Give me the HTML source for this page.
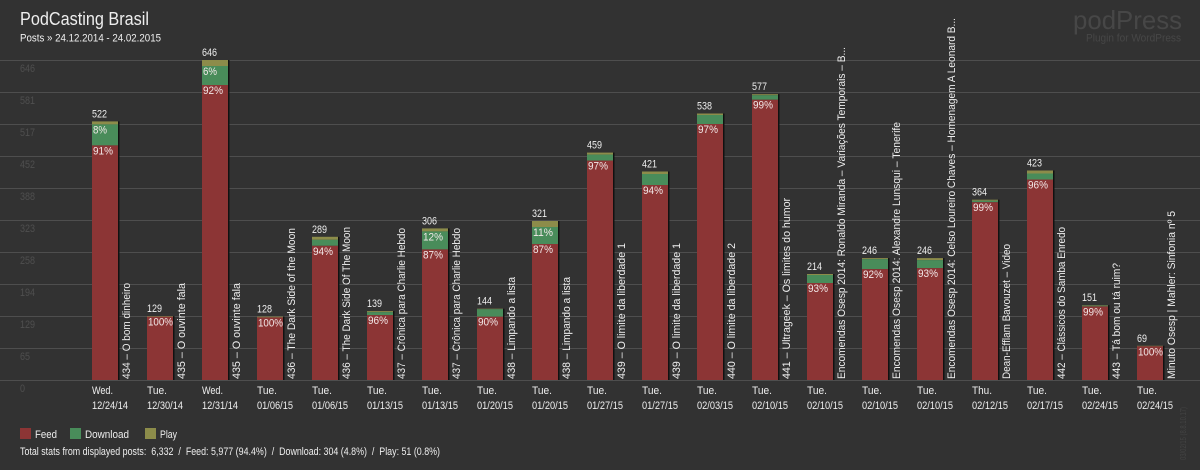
<!DOCTYPE html>
<html><head><meta charset="utf-8"><style>
html,body{margin:0;padding:0;background:#323232;}
svg{display:block;}
text{font-family:"Liberation Sans","DejaVu Sans",sans-serif;}
</style></head><body>
<svg width="1200" height="470" viewBox="0 0 1200 470" xmlns="http://www.w3.org/2000/svg">
<rect width="1200" height="470" fill="#323232"/>
<!-- header -->
<text x="20" y="25" font-size="18" fill="#eeeeee" textLength="129" lengthAdjust="spacingAndGlyphs">PodCasting Brasil</text>
<text x="20" y="41.5" font-size="11" fill="#eeeeee" textLength="141" lengthAdjust="spacingAndGlyphs">Posts » 24.12.2014 - 24.02.2015</text>
<text x="1073" y="29" font-size="26" fill="#474747" textLength="109" lengthAdjust="spacingAndGlyphs">podPress</text>
<text x="1086" y="41.5" font-size="11" fill="#474747" textLength="95" lengthAdjust="spacingAndGlyphs">Plugin for WordPress</text>
<!-- grid -->
<g stroke="#4e4e4e" stroke-width="1">
<line x1="0" x2="1200" y1="60.5" y2="60.5"/><line x1="0" x2="1200" y1="92.5" y2="92.5"/>
<line x1="0" x2="1200" y1="124.5" y2="124.5"/><line x1="0" x2="1200" y1="156.5" y2="156.5"/>
<line x1="0" x2="1200" y1="188.5" y2="188.5"/><line x1="0" x2="1200" y1="220.5" y2="220.5"/>
<line x1="0" x2="1200" y1="252.5" y2="252.5"/><line x1="0" x2="1200" y1="284.5" y2="284.5"/>
<line x1="0" x2="1200" y1="316.5" y2="316.5"/><line x1="0" x2="1200" y1="348.5" y2="348.5"/>
<line x1="0" x2="1200" y1="380.5" y2="380.5"/>
</g>
<g font-size="11" fill="#4f4f4f">
<text x="20" y="72" textLength="15" lengthAdjust="spacingAndGlyphs">646</text>
<text x="20" y="104" textLength="15" lengthAdjust="spacingAndGlyphs">581</text>
<text x="20" y="136" textLength="15" lengthAdjust="spacingAndGlyphs">517</text>
<text x="20" y="168" textLength="15" lengthAdjust="spacingAndGlyphs">452</text>
<text x="20" y="200" textLength="15" lengthAdjust="spacingAndGlyphs">388</text>
<text x="20" y="232" textLength="15" lengthAdjust="spacingAndGlyphs">323</text>
<text x="20" y="264" textLength="15" lengthAdjust="spacingAndGlyphs">258</text>
<text x="20" y="296" textLength="15" lengthAdjust="spacingAndGlyphs">194</text>
<text x="20" y="328" textLength="15" lengthAdjust="spacingAndGlyphs">129</text>
<text x="20" y="360" textLength="10" lengthAdjust="spacingAndGlyphs">65</text>
<text x="20" y="392" textLength="5" lengthAdjust="spacingAndGlyphs">0</text>
</g>

<!-- bars: shadow, play, download, feed -->
<g>
<!-- 0 -->
<rect x="118" y="121.4" width="1.5" height="258.6" fill="#111"/>
<rect x="92" y="121.4" width="26" height="3" fill="#8c8c4a"/>
<rect x="92" y="124.4" width="26" height="21" fill="#498c5a"/>
<rect x="92" y="145.4" width="26" height="234.6" fill="#8c3535"/>
<!-- 1 -->
<rect x="173" y="316.1" width="1.5" height="63.9" fill="#111"/>
<rect x="147" y="316.1" width="26" height="0.6" fill="#8c8c4a"/>
<rect x="147" y="316.7" width="26" height="63.3" fill="#8c3535"/>
<!-- 2 -->
<rect x="228" y="60" width="1.5" height="320" fill="#111"/>
<rect x="202" y="60" width="26" height="6" fill="#8c8c4a"/>
<rect x="202" y="66" width="26" height="19" fill="#498c5a"/>
<rect x="202" y="85" width="26" height="295" fill="#8c3535"/>
<!-- 3 -->
<rect x="283" y="316.6" width="1.5" height="63.4" fill="#111"/>
<rect x="257" y="316.6" width="26" height="0.8" fill="#8c8c4a"/>
<rect x="257" y="317.4" width="26" height="62.6" fill="#8c3535"/>
<!-- 4 -->
<rect x="338" y="236.8" width="1.5" height="143.2" fill="#111"/>
<rect x="312" y="236.8" width="26" height="3" fill="#8c8c4a"/>
<rect x="312" y="239.8" width="26" height="6" fill="#498c5a"/>
<rect x="312" y="245.8" width="26" height="134.2" fill="#8c3535"/>
<!-- 5 -->
<rect x="393" y="311.1" width="1.5" height="68.9" fill="#111"/>
<rect x="367" y="311.1" width="26" height="1" fill="#8c8c4a"/>
<rect x="367" y="312.1" width="26" height="3" fill="#498c5a"/>
<rect x="367" y="315.1" width="26" height="64.9" fill="#8c3535"/>
<!-- 6 -->
<rect x="448" y="228.4" width="1.5" height="151.6" fill="#111"/>
<rect x="422" y="228.4" width="26" height="3" fill="#8c8c4a"/>
<rect x="422" y="231.4" width="26" height="18" fill="#498c5a"/>
<rect x="422" y="249.4" width="26" height="130.6" fill="#8c3535"/>
<!-- 7 -->
<rect x="503" y="308.7" width="1.5" height="71.3" fill="#111"/>
<rect x="477" y="308.7" width="26" height="0.5" fill="#8c8c4a"/>
<rect x="477" y="309.2" width="26" height="7.5" fill="#498c5a"/>
<rect x="477" y="316.7" width="26" height="63.3" fill="#8c3535"/>
<!-- 8 -->
<rect x="558" y="221" width="1.5" height="159" fill="#111"/>
<rect x="532" y="221" width="26" height="6" fill="#8c8c4a"/>
<rect x="532" y="227" width="26" height="17" fill="#498c5a"/>
<rect x="532" y="244" width="26" height="136" fill="#8c3535"/>
<!-- 9 -->
<rect x="613" y="152.6" width="1.5" height="227.4" fill="#111"/>
<rect x="587" y="152.6" width="26" height="2" fill="#8c8c4a"/>
<rect x="587" y="154.6" width="26" height="6" fill="#498c5a"/>
<rect x="587" y="160.6" width="26" height="219.4" fill="#8c3535"/>
<!-- 10 -->
<rect x="668" y="171.5" width="1.5" height="208.5" fill="#111"/>
<rect x="642" y="171.5" width="26" height="2.5" fill="#8c8c4a"/>
<rect x="642" y="174" width="26" height="11" fill="#498c5a"/>
<rect x="642" y="185" width="26" height="195" fill="#8c3535"/>
<!-- 11 -->
<rect x="723" y="113.5" width="1.5" height="266.5" fill="#111"/>
<rect x="697" y="113.5" width="26" height="1.5" fill="#8c8c4a"/>
<rect x="697" y="115" width="26" height="9" fill="#498c5a"/>
<rect x="697" y="124" width="26" height="256" fill="#8c3535"/>
<!-- 12 -->
<rect x="778" y="94.2" width="1.5" height="285.8" fill="#111"/>
<rect x="752" y="94.2" width="26" height="1" fill="#8c8c4a"/>
<rect x="752" y="95.2" width="26" height="4.5" fill="#498c5a"/>
<rect x="752" y="99.7" width="26" height="280.3" fill="#8c3535"/>
<!-- 13 -->
<rect x="833" y="274" width="1.5" height="106" fill="#111"/>
<rect x="807" y="274" width="26" height="1" fill="#8c8c4a"/>
<rect x="807" y="275" width="26" height="8" fill="#498c5a"/>
<rect x="807" y="283" width="26" height="97" fill="#8c3535"/>
<!-- 14 -->
<rect x="888" y="258.1" width="1.5" height="121.9" fill="#111"/>
<rect x="862" y="258.1" width="26" height="1" fill="#8c8c4a"/>
<rect x="862" y="259.1" width="26" height="10" fill="#498c5a"/>
<rect x="862" y="269.1" width="26" height="110.9" fill="#8c3535"/>
<!-- 15 -->
<rect x="943" y="258.1" width="1.5" height="121.9" fill="#111"/>
<rect x="917" y="258.1" width="26" height="2" fill="#8c8c4a"/>
<rect x="917" y="260.1" width="26" height="8" fill="#498c5a"/>
<rect x="917" y="268.1" width="26" height="111.9" fill="#8c3535"/>
<!-- 16 -->
<rect x="998" y="199.7" width="1.5" height="180.3" fill="#111"/>
<rect x="972" y="199.7" width="26" height="1" fill="#8c8c4a"/>
<rect x="972" y="200.7" width="26" height="1.5" fill="#498c5a"/>
<rect x="972" y="202.2" width="26" height="177.8" fill="#8c3535"/>
<!-- 17 -->
<rect x="1053" y="170.5" width="1.5" height="209.5" fill="#111"/>
<rect x="1027" y="170.5" width="26" height="3" fill="#8c8c4a"/>
<rect x="1027" y="173.5" width="26" height="6" fill="#498c5a"/>
<rect x="1027" y="179.5" width="26" height="200.5" fill="#8c3535"/>
<!-- 18 -->
<rect x="1108" y="305.2" width="1.5" height="74.8" fill="#111"/>
<rect x="1082" y="305.2" width="26" height="0.5" fill="#8c8c4a"/>
<rect x="1082" y="305.7" width="26" height="0.7" fill="#498c5a"/>
<rect x="1082" y="306.4" width="26" height="73.6" fill="#8c3535"/>
<!-- 19 -->
<rect x="1163" y="345.8" width="1.5" height="34.2" fill="#111"/>
<rect x="1137" y="345.8" width="26" height="0.5" fill="#8c8c4a"/>
<rect x="1137" y="346.3" width="26" height="33.7" fill="#8c3535"/>
</g>

<!-- value labels -->
<g font-size="11" fill="#eeeeee">
<text x="92" y="117.4" textLength="15" lengthAdjust="spacingAndGlyphs">522</text>
<text x="147" y="312.1" textLength="15" lengthAdjust="spacingAndGlyphs">129</text>
<text x="202" y="56" textLength="15" lengthAdjust="spacingAndGlyphs">646</text>
<text x="257" y="312.6" textLength="15" lengthAdjust="spacingAndGlyphs">128</text>
<text x="312" y="232.8" textLength="15" lengthAdjust="spacingAndGlyphs">289</text>
<text x="367" y="307.1" textLength="15" lengthAdjust="spacingAndGlyphs">139</text>
<text x="422" y="224.4" textLength="15" lengthAdjust="spacingAndGlyphs">306</text>
<text x="477" y="304.7" textLength="15" lengthAdjust="spacingAndGlyphs">144</text>
<text x="532" y="217" textLength="15" lengthAdjust="spacingAndGlyphs">321</text>
<text x="587" y="148.6" textLength="15" lengthAdjust="spacingAndGlyphs">459</text>
<text x="642" y="167.5" textLength="15" lengthAdjust="spacingAndGlyphs">421</text>
<text x="697" y="109.5" textLength="15" lengthAdjust="spacingAndGlyphs">538</text>
<text x="752" y="90.2" textLength="15" lengthAdjust="spacingAndGlyphs">577</text>
<text x="807" y="270" textLength="15" lengthAdjust="spacingAndGlyphs">214</text>
<text x="862" y="254.1" textLength="15" lengthAdjust="spacingAndGlyphs">246</text>
<text x="917" y="254.1" textLength="15" lengthAdjust="spacingAndGlyphs">246</text>
<text x="972" y="195.7" textLength="15" lengthAdjust="spacingAndGlyphs">364</text>
<text x="1027" y="166.5" textLength="15" lengthAdjust="spacingAndGlyphs">423</text>
<text x="1082" y="301.2" textLength="15" lengthAdjust="spacingAndGlyphs">151</text>
<text x="1137" y="341.8" textLength="10" lengthAdjust="spacingAndGlyphs">69</text>
</g>

<!-- percent labels -->
<g font-size="11" fill="#f2e8e8">
<text x="93" y="133.4" textLength="14" lengthAdjust="spacingAndGlyphs">8%</text>
<text x="93" y="154.4" textLength="20" lengthAdjust="spacingAndGlyphs">91%</text>
<text x="148" y="325.7" textLength="25" lengthAdjust="spacingAndGlyphs">100%</text>
<text x="203" y="75" textLength="14" lengthAdjust="spacingAndGlyphs">6%</text>
<text x="203" y="94" textLength="20" lengthAdjust="spacingAndGlyphs">92%</text>
<text x="258" y="326.4" textLength="25" lengthAdjust="spacingAndGlyphs">100%</text>
<text x="313" y="254.8" textLength="20" lengthAdjust="spacingAndGlyphs">94%</text>
<text x="368" y="324.1" textLength="20" lengthAdjust="spacingAndGlyphs">96%</text>
<text x="423" y="240.4" textLength="20" lengthAdjust="spacingAndGlyphs">12%</text>
<text x="423" y="258.4" textLength="20" lengthAdjust="spacingAndGlyphs">87%</text>
<text x="478" y="325.7" textLength="20" lengthAdjust="spacingAndGlyphs">90%</text>
<text x="533" y="236" textLength="20" lengthAdjust="spacingAndGlyphs">11%</text>
<text x="533" y="253" textLength="20" lengthAdjust="spacingAndGlyphs">87%</text>
<text x="588" y="169.6" textLength="20" lengthAdjust="spacingAndGlyphs">97%</text>
<text x="643" y="194" textLength="20" lengthAdjust="spacingAndGlyphs">94%</text>
<text x="698" y="133" textLength="20" lengthAdjust="spacingAndGlyphs">97%</text>
<text x="753" y="108.7" textLength="20" lengthAdjust="spacingAndGlyphs">99%</text>
<text x="808" y="292" textLength="20" lengthAdjust="spacingAndGlyphs">93%</text>
<text x="863" y="278.1" textLength="20" lengthAdjust="spacingAndGlyphs">92%</text>
<text x="918" y="277.1" textLength="20" lengthAdjust="spacingAndGlyphs">93%</text>
<text x="973" y="211.2" textLength="20" lengthAdjust="spacingAndGlyphs">99%</text>
<text x="1028" y="188.5" textLength="20" lengthAdjust="spacingAndGlyphs">96%</text>
<text x="1083" y="315.4" textLength="20" lengthAdjust="spacingAndGlyphs">99%</text>
<text x="1138" y="355.3" textLength="25" lengthAdjust="spacingAndGlyphs">100%</text>
</g>

<!-- rotated post titles -->
<g font-size="11" fill="#eeeeee">
<text transform="translate(130,379) rotate(-90)" textLength="96" lengthAdjust="spacingAndGlyphs">434 – O bom dinheiro</text>
<text transform="translate(185,379) rotate(-90)" textLength="96" lengthAdjust="spacingAndGlyphs">435 – O ouvinte fala</text>
<text transform="translate(240,379) rotate(-90)" textLength="96" lengthAdjust="spacingAndGlyphs">435 – O ouvinte fala</text>
<text transform="translate(295,379) rotate(-90)" textLength="151" lengthAdjust="spacingAndGlyphs">436 – The Dark Side of the Moon</text>
<text transform="translate(350,379) rotate(-90)" textLength="152" lengthAdjust="spacingAndGlyphs">436 – The Dark Side Of The Moon</text>
<text transform="translate(405,379) rotate(-90)" textLength="151" lengthAdjust="spacingAndGlyphs">437 – Crônica para Charlie Hebdo</text>
<text transform="translate(460,379) rotate(-90)" textLength="151" lengthAdjust="spacingAndGlyphs">437 – Crônica para Charlie Hebdo</text>
<text transform="translate(515,379) rotate(-90)" textLength="102" lengthAdjust="spacingAndGlyphs">438 – Limpando a lista</text>
<text transform="translate(570,379) rotate(-90)" textLength="102" lengthAdjust="spacingAndGlyphs">438 – Limpando a lista</text>
<text transform="translate(625,379) rotate(-90)" textLength="136" lengthAdjust="spacingAndGlyphs">439 – O limite da liberdade 1</text>
<text transform="translate(680,379) rotate(-90)" textLength="136" lengthAdjust="spacingAndGlyphs">439 – O limite da liberdade 1</text>
<text transform="translate(735,379) rotate(-90)" textLength="136" lengthAdjust="spacingAndGlyphs">440 – O limite da liberdade 2</text>
<text transform="translate(790,379) rotate(-90)" textLength="181" lengthAdjust="spacingAndGlyphs">441 – Ultrageek – Os limites do humor</text>
<text transform="translate(845,379) rotate(-90)" textLength="332" lengthAdjust="spacingAndGlyphs">Encomendas Osesp 2014: Ronaldo Miranda – Variações Temporais – B...</text>
<text transform="translate(900,379) rotate(-90)" textLength="257" lengthAdjust="spacingAndGlyphs">Encomendas Osesp 2014: Alexandre Lunsqui – Tenerife</text>
<text transform="translate(955,379) rotate(-90)" textLength="361" lengthAdjust="spacingAndGlyphs">Encomendas Osesp 2014: Celso Loureiro Chaves – Homenagem A Leonard B...</text>
<text transform="translate(1010,379) rotate(-90)" textLength="135" lengthAdjust="spacingAndGlyphs">Dean-Efflam Bavouzet – Video</text>
<text transform="translate(1065,379) rotate(-90)" textLength="152" lengthAdjust="spacingAndGlyphs">442 – Clássicos do Samba Enredo</text>
<text transform="translate(1120,379) rotate(-90)" textLength="116" lengthAdjust="spacingAndGlyphs">443 – Tá bom ou tá ruim?</text>
<text transform="translate(1175,379) rotate(-90)" textLength="168" lengthAdjust="spacingAndGlyphs">Minuto Osesp | Mahler: Sinfonia nº 5</text>
</g>

<!-- x-axis labels -->
<g font-size="11" fill="#eeeeee">
<text x="92" y="394" textLength="21" lengthAdjust="spacingAndGlyphs">Wed.</text><text x="92" y="409" textLength="36" lengthAdjust="spacingAndGlyphs">12/24/14</text>
<text x="147" y="394" textLength="20" lengthAdjust="spacingAndGlyphs">Tue.</text><text x="147" y="409" textLength="36" lengthAdjust="spacingAndGlyphs">12/30/14</text>
<text x="202" y="394" textLength="21" lengthAdjust="spacingAndGlyphs">Wed.</text><text x="202" y="409" textLength="36" lengthAdjust="spacingAndGlyphs">12/31/14</text>
<text x="257" y="394" textLength="20" lengthAdjust="spacingAndGlyphs">Tue.</text><text x="257" y="409" textLength="36" lengthAdjust="spacingAndGlyphs">01/06/15</text>
<text x="312" y="394" textLength="20" lengthAdjust="spacingAndGlyphs">Tue.</text><text x="312" y="409" textLength="36" lengthAdjust="spacingAndGlyphs">01/06/15</text>
<text x="367" y="394" textLength="20" lengthAdjust="spacingAndGlyphs">Tue.</text><text x="367" y="409" textLength="36" lengthAdjust="spacingAndGlyphs">01/13/15</text>
<text x="422" y="394" textLength="20" lengthAdjust="spacingAndGlyphs">Tue.</text><text x="422" y="409" textLength="36" lengthAdjust="spacingAndGlyphs">01/13/15</text>
<text x="477" y="394" textLength="20" lengthAdjust="spacingAndGlyphs">Tue.</text><text x="477" y="409" textLength="36" lengthAdjust="spacingAndGlyphs">01/20/15</text>
<text x="532" y="394" textLength="20" lengthAdjust="spacingAndGlyphs">Tue.</text><text x="532" y="409" textLength="36" lengthAdjust="spacingAndGlyphs">01/20/15</text>
<text x="587" y="394" textLength="20" lengthAdjust="spacingAndGlyphs">Tue.</text><text x="587" y="409" textLength="36" lengthAdjust="spacingAndGlyphs">01/27/15</text>
<text x="642" y="394" textLength="20" lengthAdjust="spacingAndGlyphs">Tue.</text><text x="642" y="409" textLength="36" lengthAdjust="spacingAndGlyphs">01/27/15</text>
<text x="697" y="394" textLength="20" lengthAdjust="spacingAndGlyphs">Tue.</text><text x="697" y="409" textLength="36" lengthAdjust="spacingAndGlyphs">02/03/15</text>
<text x="752" y="394" textLength="20" lengthAdjust="spacingAndGlyphs">Tue.</text><text x="752" y="409" textLength="36" lengthAdjust="spacingAndGlyphs">02/10/15</text>
<text x="807" y="394" textLength="20" lengthAdjust="spacingAndGlyphs">Tue.</text><text x="807" y="409" textLength="36" lengthAdjust="spacingAndGlyphs">02/10/15</text>
<text x="862" y="394" textLength="20" lengthAdjust="spacingAndGlyphs">Tue.</text><text x="862" y="409" textLength="36" lengthAdjust="spacingAndGlyphs">02/10/15</text>
<text x="917" y="394" textLength="20" lengthAdjust="spacingAndGlyphs">Tue.</text><text x="917" y="409" textLength="36" lengthAdjust="spacingAndGlyphs">02/10/15</text>
<text x="972" y="394" textLength="20" lengthAdjust="spacingAndGlyphs">Thu.</text><text x="972" y="409" textLength="36" lengthAdjust="spacingAndGlyphs">02/12/15</text>
<text x="1027" y="394" textLength="20" lengthAdjust="spacingAndGlyphs">Tue.</text><text x="1027" y="409" textLength="36" lengthAdjust="spacingAndGlyphs">02/17/15</text>
<text x="1082" y="394" textLength="20" lengthAdjust="spacingAndGlyphs">Tue.</text><text x="1082" y="409" textLength="36" lengthAdjust="spacingAndGlyphs">02/24/15</text>
<text x="1137" y="394" textLength="20" lengthAdjust="spacingAndGlyphs">Tue.</text><text x="1137" y="409" textLength="36" lengthAdjust="spacingAndGlyphs">02/24/15</text>
</g>

<!-- legend -->
<rect x="20" y="428" width="11" height="11" fill="#8c3535"/>
<rect x="70" y="428" width="11" height="11" fill="#498c5a"/>
<rect x="145" y="428" width="11" height="11" fill="#8c8c4a"/>
<g font-size="11" fill="#eeeeee">
<text x="35" y="438" textLength="22" lengthAdjust="spacingAndGlyphs">Feed</text>
<text x="85" y="438" textLength="44" lengthAdjust="spacingAndGlyphs">Download</text>
<text x="160" y="438" textLength="17" lengthAdjust="spacingAndGlyphs">Play</text>
<text x="20" y="455" textLength="420" lengthAdjust="spacingAndGlyphs" style="white-space:pre">Total stats from displayed posts:  6,332  /  Feed: 5,977 (94.4%)  /  Download: 304 (4.8%)  /  Play: 51 (0.8%)</text>
</g>
<text transform="translate(1186,460) rotate(-90)" font-size="8" fill="#444444" textLength="53" lengthAdjust="spacingAndGlyphs">03/02/15 (8.8.10.17)</text>
</svg>
</body></html>
